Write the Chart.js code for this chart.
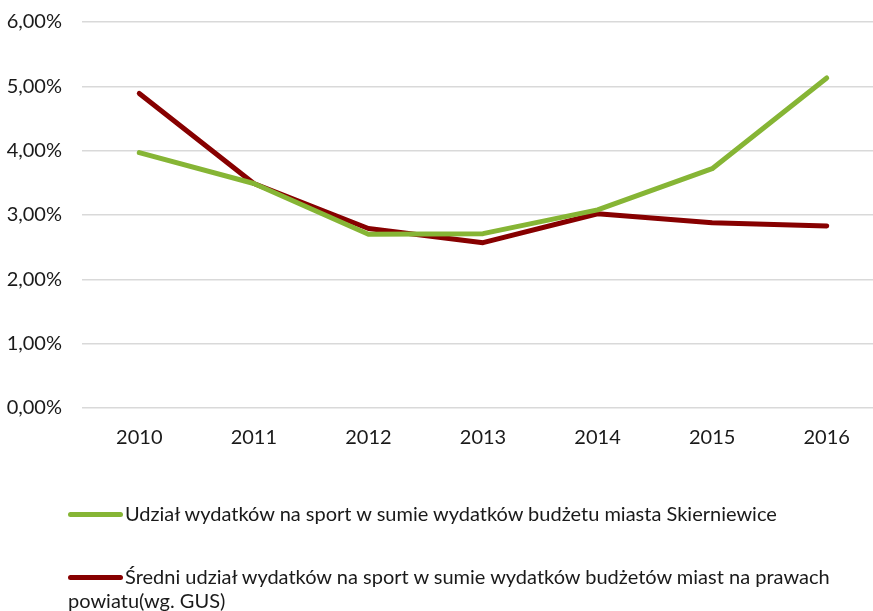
<!DOCTYPE html>
<html>
<head>
<meta charset="utf-8">
<script src="https://cdn.jsdelivr.net/npm/chart.js@4.4.1/dist/chart.umd.min.js"></script>
<style>
    html, body { margin: 0; padding: 0; background: #fff; overflow: hidden; }
    #wrap { position: relative; width: 873px; height: 611px; overflow: hidden; }
    #chart { position: absolute; left: 0; top: 0; }
    .legend-item {
        position: absolute;
        left: 68px;
        font-family: Lato, sans-serif;
        font-size: 20px;
        line-height: 24px;
        color: #1a1a1a;
        white-space: nowrap;
    }
    .legend-item .swatch {
        display: inline-block;
        width: 55px;
        height: 5px;
        border-radius: 3px;
        vertical-align: middle;
        margin-right: 2px;
        position: relative;
        top: -1px;
    }
</style>
</head>
<body>
<div id="wrap">
    <canvas id="chart" width="884" height="611" style="width:884px;height:611px"></canvas>
    <div class="legend-item" id="leg1" style="top:501px"></div>
    <div class="legend-item" id="leg2" style="top:564px"></div>
</div>
<script>
// dane
const years = ['2010', '2011', '2012', '2013', '2014', '2015', '2016'];
const skierniewice = [3.97, 3.49, 2.70, 2.71, 3.08, 3.72, 5.13];
const sredniaGus = [4.89, 3.49, 2.79, 2.57, 3.02, 2.88, 2.83];
const yTickLabels = ['0,00%', '1,00%', '2,00%', '3,00%', '4,00%', '5,00%', '6,00%'];
const seriesNames = [
    'Udział wydatków na sport w sumie wydatków budżetu miasta Skierniewice',
    'Średni udział wydatków na sport w sumie wydatków budżetów miast na prawach\npowiatu(wg. GUS)'
];
const seriesColors = ['#86b535', '#870000'];

document.addEventListener('DOMContentLoaded', function() {
    // legenda pod wykresem
    ['leg1', 'leg2'].forEach((id, i) => {
        const el = document.getElementById(id);
        const parts = seriesNames[i].split('\n');
        el.innerHTML = '<span class="swatch" style="background:' + seriesColors[i] + '"></span>' +
            parts.join('<br>');
    });

    const ctx = document.getElementById('chart');
    new Chart(ctx, {
        type: 'line',
        data: {
            labels: years,
            datasets: [{
                label: seriesNames[0],
                data: skierniewice,
                borderColor: seriesColors[0],
                borderWidth: 5,
                pointRadius: 0,
                tension: 0,
                borderCapStyle: 'round',
                borderJoinStyle: 'round',
                fill: false
            }, {
                label: seriesNames[1],
                data: sredniaGus,
                borderColor: seriesColors[1],
                borderWidth: 5,
                pointRadius: 0,
                tension: 0,
                borderCapStyle: 'round',
                borderJoinStyle: 'round',
                fill: false
            }]
        },
        options: {
            responsive: false,
            animation: false,
            layout: {
                padding: { top: 0, left: 0, right: 0, bottom: 151 }
            },
            plugins: {
                legend: { display: false },
                tooltip: { enabled: false }
            },
            scales: {
                x: {
                    offset: true,
                    grid: { display: false },
                    border: { display: false },
                    ticks: {
                        color: '#1a1a1a',
                        padding: 10,
                        font: { family: 'Lato', size: 20 }
                    }
                },
                y: {
                    min: 0,
                    max: 6,
                    grid: { color: '#d9d9d9', lineWidth: 1.5, drawTicks: false },
                    border: { display: false },
                    afterFit: function(scale) {
                        scale.width = 82;
                        scale.paddingTop = 22;
                    },
                    ticks: {
                        stepSize: 1,
                        color: '#1a1a1a',
                        padding: 20,
                        font: { family: 'Lato', size: 20 },
                        callback: function(value) {
                            return yTickLabels[value];
                        }
                    }
                }
            }
        }
    });
});
</script>
</body>
</html>
